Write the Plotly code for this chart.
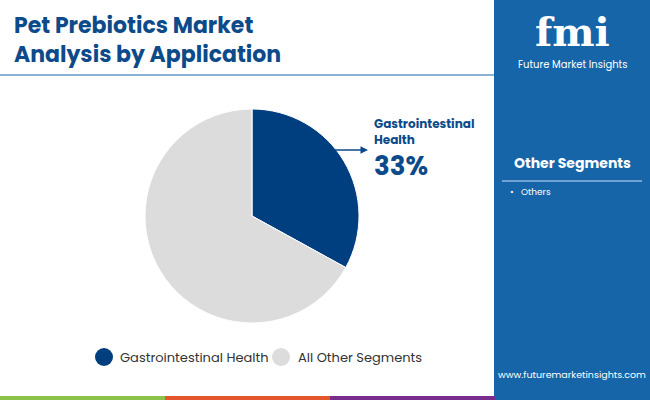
import plotly.graph_objects as go

labels = ["Gastrointestinal Health", "All Other Segments"]
values = [33, 67]
colors = ["#003f7f", "#dcdcdc"]
segments = ["Others"]

fig = go.Figure()
fig.add_trace(go.Pie(labels=labels, values=values, sort=False, direction="clockwise",
                     rotation=0, marker=dict(colors=colors, line=dict(color="white", width=1)),
                     textinfo="none", hoverinfo="label+percent", showlegend=False,
                     domain=dict(x=[145/650, 359/650], y=[1-323/400, 1-109/400])))

shapes = [
    dict(type="rect", xref="paper", yref="paper", x0=494/650, x1=1, y0=0, y1=1,
         fillcolor="#1565a8", line_width=0, layer="below"),
    dict(type="line", xref="paper", yref="paper", x0=0, x1=494/650, y0=1-75/400, y1=1-75/400,
         line=dict(color="#1565a8", width=1)),
    dict(type="line", xref="paper", yref="paper", x0=502/650, x1=642/650, y0=1-181/400, y1=1-181/400,
         line=dict(color="#8fb8dc", width=1.5)),
    dict(type="circle", xref="paper", yref="paper", x0=95/650, x1=113/650, y0=1-366/400, y1=1-348/400,
         fillcolor=colors[0], line_width=0),
    dict(type="circle", xref="paper", yref="paper", x0=272/650, x1=290/650, y0=1-366/400, y1=1-348/400,
         fillcolor=colors[1], line_width=0),
]
for i, c in enumerate(["#8bc34a", "#e4572e", "#7b2d8e"]):
    shapes.append(dict(type="rect", xref="paper", yref="paper", x0=i*165/650, x1=(i+1)*165/650,
                       y0=0, y1=4/400, fillcolor=c, line_width=0))

font = "Poppins, Roboto, Arial"
ann = [
    dict(x=12/650, y=1-8/400, text="<b>Pet Prebiotics Market<br>Analysis by Application</b>", showarrow=False,
         xanchor="left", yanchor="top", align="left", font=dict(size=22, color="#0d4a8a", family=font)),
    dict(x=372/650, y=1-113/400, text="<b>Gastrointestinal<br>Health</b>", showarrow=False,
         xanchor="left", yanchor="top", align="left", font=dict(size=12, color="#0d4a8a", family=font)),
    dict(x=372/650, y=1-146/400, text="<b>33%</b>", showarrow=False,
         xanchor="left", yanchor="top", font=dict(size=26, color="#0d4a8a", family=font)),
    dict(x=368/650, y=1-150/400, ax=-36, ay=0,
         text="", showarrow=True, arrowhead=2, arrowsize=1, arrowwidth=1.5, arrowcolor="#0d4a8a"),
    dict(x=118/650, y=1-357/400, text=labels[0], showarrow=False, xanchor="left", yanchor="middle",
         font=dict(size=13, color="#333", family=font)),
    dict(x=296/650, y=1-357/400, text=labels[1], showarrow=False, xanchor="left", yanchor="middle",
         font=dict(size=13, color="#333", family=font)),
    dict(x=572/650, y=1-163/400, text="<b>Other Segments</b>", showarrow=False, xanchor="center",
         font=dict(size=14, color="white", family=font)),
    dict(x=508/650, y=1-192/400, text="•&nbsp;&nbsp;&nbsp;" + segments[0], showarrow=False, xanchor="left",
         font=dict(size=9, color="white", family=font)),
    dict(x=572/650, y=1-32/400, text="<b>fmi</b>", showarrow=False, xanchor="center", yanchor="middle",
         font=dict(size=40, color="white", family="DejaVu Serif")),
    dict(x=572/650, y=1-64/400, text="Future Market Insights", showarrow=False, xanchor="center", yanchor="middle",
         font=dict(size=10, color="white", family=font)),
    dict(x=572/650, y=1-383/400, text="www.futuremarketinsights.com", showarrow=False, xanchor="center",
         font=dict(size=9.5, color="white", family=font)),
]
for a in ann:
    a.setdefault("xref", "paper")
    a.setdefault("yref", "paper")

fig.update_layout(width=650, height=400, margin=dict(l=0, r=0, t=0, b=0),
                  paper_bgcolor="white", plot_bgcolor="white",
                  shapes=shapes, annotations=ann)
fig.write_html("out.html", config={"displayModeBar": False},
               post_script="document.body.style.margin='0';")
